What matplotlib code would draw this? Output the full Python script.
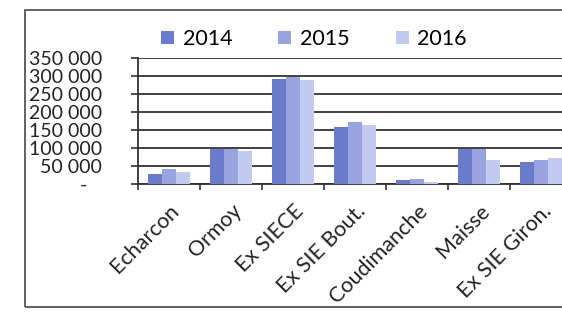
import numpy as np
import matplotlib.pyplot as plt
from matplotlib.patches import Rectangle

plt.rcParams['font.family'] = ['Lato', 'DejaVu Sans']

categories = ['Echarcon', 'Ormoy', 'Ex SIECE', 'Ex SIE Bout.', 'Coudimanche', 'Maisse', 'Ex SIE Giron.']
years = ['2014', '2015', '2016']
v2014 = [29000, 98000, 291000, 157000, 10000, 96000, 62000]
v2015 = [43000, 98000, 298000, 171000, 15000, 97000, 66000]
v2016 = [34000, 92000, 288000, 163000, 5000, 67000, 71000]
colors = ['#6a7bcc', '#99a3e0', '#c3caf0']
ytick_vals = [0, 50000, 100000, 150000, 200000, 250000, 300000, 350000]
ytick_labels = ['-   ', '50 000', '100 000', '150 000', '200 000', '250 000', '300 000', '350 000']

fig = plt.figure(figsize=(5.62, 3.14), dpi=100)
ax = fig.add_axes([138 / 562, 130 / 314, 434 / 562, 126 / 314])

x = np.arange(len(categories))
w = 0.226
for i, vals in enumerate([v2014, v2015, v2016]):
    ax.bar(x + (i - 1) * w, vals, w, color=colors[i], label=years[i], zorder=3)

ax.set_xlim(-0.5, len(categories) - 0.5)
ax.set_ylim(0, 350000)
ax.set_yticks(ytick_vals)
ax.set_yticklabels(ytick_labels, fontsize=14, color='#222')
ax.tick_params(axis='y', length=5, width=1.2, pad=21, color='#333')
ax.yaxis.grid(True, color='#333', lw=1.3, zorder=0)

ax.set_xticks(x)
ax.set_xticklabels(categories, fontsize=15.5, rotation=45, ha='right',
                   rotation_mode='anchor', color='#222')
ax.tick_params(axis='x', which='major', length=0, pad=12)
ax.set_xticks(np.arange(len(categories) + 1) - 0.5, minor=True)
ax.tick_params(axis='x', which='minor', length=4, width=1.2, color='#333')

for s in ['top', 'right']:
    ax.spines[s].set_visible(False)
ax.spines['left'].set_color('#333')
ax.spines['left'].set_linewidth(1.3)
ax.spines['bottom'].set_color('#333')
ax.spines['bottom'].set_linewidth(1.3)

fig.legend(loc='center', bbox_to_anchor=(314 / 562, 1 - 39 / 314), ncol=3,
           frameon=False, fontsize=15.5, handlelength=0.6, handleheight=0.6,
           handletextpad=0.4, columnspacing=2.15)

fig.add_artist(Rectangle((25 / 562, 7 / 314), 1.0, 297 / 314, transform=fig.transFigure,
                         fill=False, edgecolor='#555', lw=1.3))

fig.savefig('out.png', dpi=100)
